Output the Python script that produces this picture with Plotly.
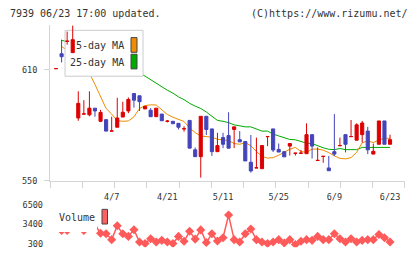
import plotly.graph_objects as go
import numpy as np

# ---------------- data ----------------
tick_dates = ['4/7', '4/21', '5/11', '5/25', '6/9', '6/23']
tick_idx = [10, 20, 30, 40, 50, 60]

opens = [610.5, 618.6, 625.3, 619.2, 583.9, 586.0, 585.6, 589.2, 582.1, 583.0,
         576.8, 578.9, 584.4, 587.7, 597.1, 595.9, 588.8, 588.1, 584.6, 586.0,
         582.1, 582.1, 581.0, 578.0, 582.6, 566.7, 563.0, 584.8, 578.0, 565.7,
         573.3, 574.4, 577.7, 572.2, 571.2, 560.0, 556.9, 556.5, 573.8, 578.0,
         566.9, 565.7, 568.7, 564.8, 564.8, 564.6, 574.9, 560.9, 563.1, 556.9,
         565.7, 568.9, 574.9, 573.8, 571.9, 574.9, 576.8, 564.4, 569.7, 582.3,
         569.7]
highs = [610.6, 626.2, 630.6, 634.0, 598.3, 593.5, 598.3, 589.2, 588.3, 583.0,
         584.6, 594.8, 592.7, 595.0, 597.1, 595.9, 590.2, 589.2, 589.2, 586.0,
         582.8, 582.1, 581.0, 579.4, 582.6, 568.0, 584.8, 584.8, 578.0, 575.9,
         575.9, 587.0, 579.1, 576.8, 571.2, 574.7, 573.3, 569.0, 573.9, 578.0,
         570.1, 565.7, 570.1, 564.9, 566.6, 581.0, 574.9, 568.0, 563.2, 563.4,
         586.0, 573.3, 574.9, 582.8, 581.0, 582.3, 579.1, 570.1, 582.3, 582.3,
         574.9]
lows = [610.5, 613.9, 623.5, 619.2, 582.4, 586.0, 584.8, 584.6, 581.7, 576.8,
        576.8, 578.9, 584.4, 586.5, 589.5, 587.7, 588.8, 584.6, 584.6, 582.4,
        581.5, 580.8, 577.7, 576.5, 567.6, 563.0, 551.7, 574.7, 563.4, 565.7,
        567.6, 567.6, 567.6, 571.0, 560.7, 554.4, 556.9, 556.5, 568.7, 565.5,
        565.5, 562.9, 563.6, 563.6, 564.8, 564.6, 562.0, 560.9, 559.7, 555.4,
        563.4, 568.9, 565.3, 573.8, 571.9, 570.6, 564.4, 564.4, 569.7, 569.7,
        569.7]
closes = [610.6, 617.0, 625.4, 626.2, 591.8, 586.1, 589.2, 587.7, 586.9, 576.8,
          576.9, 583.9, 587.0, 593.9, 593.5, 592.7, 590.2, 584.6, 589.2, 582.4,
          582.2, 580.8, 578.9, 578.1, 567.6, 563.0, 584.8, 577.7, 565.7, 569.0,
          569.7, 567.6, 579.1, 571.0, 560.7, 555.3, 557.0, 569.0, 573.9, 566.6,
          565.5, 562.9, 570.1, 564.9, 564.9, 574.9, 568.7, 561.0, 563.2, 555.4,
          564.4, 569.0, 569.7, 573.9, 580.2, 581.2, 566.7, 565.9, 582.3, 569.7,
          572.2]
ma5 = [None, 622.5, 620.5, 618.0, 614.5, 611.0, 608.0, 602.0, 595.0, 589.0,
       586.0, 582.5, 582.1, 582.3, 584.5, 589.0, 590.6, 591.0, 590.9, 588.3,
       585.8, 584.3, 583.0, 582.0, 578.5, 576.0, 574.2, 573.8, 573.5, 572.4,
       572.2, 571.7, 570.1, 569.7, 570.6, 568.9, 565.8, 563.2, 562.2, 562.5,
       563.8, 565.5, 567.0, 568.0, 565.8, 565.3, 567.1, 567.1, 566.5, 565.2,
       563.4, 562.1, 561.8, 562.5, 565.3, 570.5, 571.5, 570.6, 572.0, 572.9,
       572.9]
ma25 = [None, 625.8, 625.3, 624.6, 623.5, 622.4, 621.2, 620.0, 618.7, 617.3,
        615.9, 614.4, 612.8, 611.1, 609.4, 607.9, 606.5, 604.6, 602.3, 600.6,
        598.9, 597.3, 595.3, 593.8, 591.8, 590.3, 589.0, 587.1, 584.8, 582.6,
        582.1, 581.4, 580.2, 579.5, 579.1, 579.1, 578.1, 576.8, 576.8, 575.2,
        574.2, 573.3, 572.3, 572.1, 571.3, 570.3, 570.1, 568.8, 567.8, 567.0,
        566.8, 567.4, 566.8, 566.8, 566.8, 568.0, 568.0, 568.0, 568.0, 568.0,
        568.0]
volume = [None, 2400, 2400, 3400, 3300, 2400, 3400, 3300, 1960, 1870,
          930, 3170, 1870, 1450, 2540, 550, 300, 1085, 550, 820,
          550, 300, 1450, 660, 2280, 1020, 2500, 460, 1870, 710,
          1240, 4900, 930, 550, 1870, 2650, 930, 550, 300, 550,
          930, 400, 930, 150, 660, 930, 820, 1450, 930, 930,
          1870, 1085, 550, 1085, 550, 820, 930, 930, 1760, 1240,
          550]
vol_ticks = [300, 3400, 6500]
price_ticks = [550, 610]

days = list(range(len(closes)))

# ---------------- geometry (pixels) ----------------
W, H = 420, 259
X0, X1 = 50, 405
XR = [-1.08, 62.69]
P_TOP, P_BOT = 25, 184
PR = [550, 633.9]
V_TOP, V_BOT = 205, 252
VR = [-284, 7131]

def px(x):
    return x / W

def py(y):
    return 1 - y / H

def dx(x):
    return XR[0] + (x - X0) / (X1 - X0) * (XR[1] - XR[0])

def dy(y):
    return PR[0] + (P_BOT - y) / (P_BOT - P_TOP) * (PR[1] - PR[0])

FONT = 'DejaVu Sans Mono'
TXT = '#333333'
AX = '#d4d4d4'
RED = '#dd0000'
BLUE = '#4444bb'
ORANGE = '#f08c00'
GREEN = '#00aa00'
VOLC = '#ff5a5a'

fig = go.Figure()

fig.add_trace(go.Scatter(x=days, y=ma25, mode='lines', line=dict(color=GREEN, width=1),
                         xaxis='x', yaxis='y', hoverinfo='skip'))
fig.add_trace(go.Scatter(x=days, y=ma5, mode='lines', line=dict(color=ORANGE, width=1),
                         xaxis='x', yaxis='y', hoverinfo='skip'))
# legend box (below the candles, above MA lines)
bx = [dx(65), dx(143), dx(143), dx(65), dx(65)]
by = [dy(30), dy(30), dy(77), dy(77), dy(30)]
fig.add_trace(go.Scatter(x=bx, y=by, mode='lines', fill='toself', fillcolor='white',
                         line=dict(color='#cccccc', width=1), xaxis='x', yaxis='y',
                         hoverinfo='skip'))

fig.add_trace(go.Candlestick(
    x=days, open=opens, high=highs, low=lows, close=closes,
    increasing=dict(line=dict(color=RED, width=1), fillcolor=RED),
    decreasing=dict(line=dict(color=BLUE, width=1), fillcolor=BLUE),
    whiskerwidth=0, xaxis='x3', yaxis='y3', hoverinfo='skip'))

fig.add_trace(go.Scatter(x=days, y=volume, mode='lines+markers',
                         line=dict(color=VOLC, width=1.5),
                         marker=dict(symbol='diamond', size=7, color=VOLC),
                         xaxis='x2', yaxis='y2', hoverinfo='skip'))

dom_x = [px(X0), px(X1)]
fig.update_layout(
    width=W, height=H, margin=dict(l=0, r=0, t=0, b=0),
    paper_bgcolor='white', plot_bgcolor='white', showlegend=False,
    boxgap=0.2,
    xaxis=dict(domain=dom_x, range=XR, anchor='y', showline=True, linecolor=AX,
               linewidth=1, showgrid=False, zeroline=False,
               tickvals=tick_idx, ticktext=tick_dates, ticks='',
               tickfont=dict(family=FONT, size=8.5, color=TXT),
               ticklabelstandoff=8,
               minor=dict(tickvals=list(np.linspace(XR[0], XR[1] - 0.01, 12)),
                          ticks='outside', ticklen=6, tickcolor=AX, tickwidth=1,
                          showgrid=False)),
    yaxis=dict(domain=[py(P_BOT), py(P_TOP)], range=PR, anchor='x', showline=True,
               linecolor=AX, linewidth=1, showgrid=False, zeroline=False,
               tickvals=price_ticks, ticks='outside', ticklen=5, tickcolor=AX,
               tickfont=dict(family=FONT, size=8.5, color=TXT),
               ticklabelstandoff=5),
    xaxis3=dict(overlaying='x', range=XR, anchor='y3', visible=False,
                rangeslider=dict(visible=False)),
    yaxis3=dict(overlaying='y', range=PR, anchor='x3', visible=False),
    xaxis2=dict(domain=dom_x, range=XR, anchor='y2', visible=False),
    yaxis2=dict(domain=[py(V_BOT), py(V_TOP)], range=VR, anchor='x2', showline=False,
                showgrid=False, zeroline=False, tickvals=vol_ticks, ticks='',
                tickfont=dict(family=FONT, size=8.5, color=TXT),
                ticklabelstandoff=6),
)

ann_font = dict(family=FONT, size=10, color=TXT)
fig.add_annotation(x=px(8), y=py(13), xref='paper', yref='paper', xanchor='left',
                   yanchor='middle', text='7939 06/23 17:00 updated.', showarrow=False,
                   font=ann_font)
fig.add_annotation(x=px(410), y=py(13), xref='paper', yref='paper', xanchor='right',
                   yanchor='middle', text='(C)https://www.rizumu.net/', showarrow=False,
                   font=ann_font)
fig.add_annotation(x=px(126), y=py(46), xref='paper', yref='paper', xanchor='right',
                   yanchor='middle', text='5-day MA', showarrow=False, font=ann_font)
fig.add_annotation(x=px(126), y=py(63), xref='paper', yref='paper', xanchor='right',
                   yanchor='middle', text='25-day MA', showarrow=False, font=ann_font)

fig.add_shape(type='rect', xref='paper', yref='paper', x0=px(131), x1=px(137),
              y0=py(52.5), y1=py(37.5), fillcolor=ORANGE, line=dict(color='#444', width=1),
              layer='above')
fig.add_shape(type='rect', xref='paper', yref='paper', x0=px(131), x1=px(137),
              y0=py(69.5), y1=py(54.5), fillcolor=GREEN, line=dict(color='#444', width=1),
              layer='above')

# volume legend (white backing hides the line beneath it)
fig.add_shape(type='rect', xref='paper', yref='paper', x0=px(54), x1=px(97),
              y0=py(236.5), y1=py(204), fillcolor='white', line=dict(width=0),
              layer='above')
fig.add_shape(type='rect', xref='paper', yref='paper', x0=px(97), x1=px(109),
              y0=py(231), y1=py(204), fillcolor='white', line=dict(width=0),
              layer='above')
fig.add_annotation(x=px(57), y=py(222), xref='paper', yref='paper', xanchor='left',
                   yanchor='middle', text='Volume', showarrow=False, font=ann_font)
fig.add_shape(type='rect', xref='paper', yref='paper', x0=px(102), x1=px(107.5),
              y0=py(228.3), y1=py(213.3), fillcolor='#ff6060',
              line=dict(color='#444', width=1), layer='above')

fig.write_html('out.html')
